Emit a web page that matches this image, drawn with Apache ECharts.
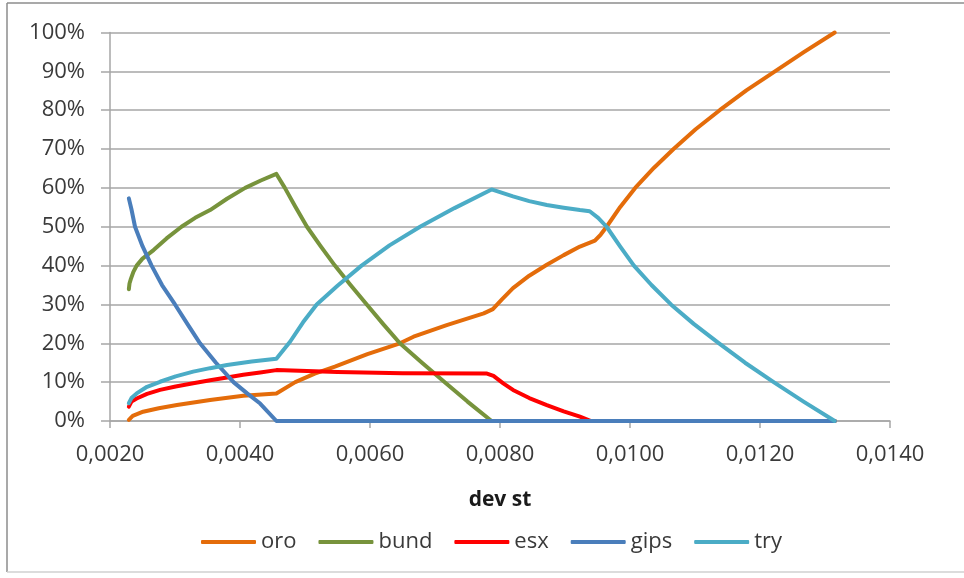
<!DOCTYPE html>
<html>
<head>
<meta charset="utf-8">
<title>Composizione portafoglio per deviazione standard</title>
<script src="https://cdn.jsdelivr.net/npm/echarts@6/dist/echarts.min.js"></script>
<style>
  html, body { margin: 0; padding: 0; background: #ffffff; }
  #chart { width: 964px; height: 578px; }
</style>
</head>
<body>
<div id="chart"></div>
<script>
// Portfolio weights (%) along the efficient frontier, keyed by standard deviation
const seriesNames = ['oro', 'bund', 'esx', 'gips', 'try'];

const oro = [
  [0.00229, 0.3], [0.00235, 1.3], [0.00251, 2.4], [0.00275, 3.3], [0.00303, 4.1],
  [0.00354, 5.4], [0.00405, 6.5], [0.00456, 7.1], [0.00485, 10], [0.00515, 12.2],
  [0.00546, 14], [0.00596, 17.2], [0.00646, 20], [0.00667, 21.7], [0.00718, 24.7],
  [0.00775, 27.7], [0.00789, 28.8], [0.00803, 31.3], [0.0082, 34.2], [0.00845, 37.4],
  [0.00872, 40.2], [0.00898, 42.7], [0.00923, 44.9], [0.00946, 46.4], [0.00955, 48],
  [0.00964, 50], [0.00985, 55.1], [0.01008, 60], [0.01037, 65.2], [0.01067, 70],
  [0.01101, 75.1], [0.01138, 80], [0.01179, 85.1], [0.01223, 90], [0.01268, 95],
  [0.01315, 100]
];
const bund = [
  [0.00229, 33.9], [0.0023, 35.4], [0.00232, 36.5], [0.00236, 38.4], [0.00241, 40],
  [0.0025, 41.8], [0.00267, 44], [0.00287, 47], [0.0031, 50], [0.00331, 52.3],
  [0.00354, 54.3], [0.0038, 57.2], [0.00408, 60], [0.00432, 61.9], [0.00456, 63.6],
  [0.00469, 60], [0.00485, 55.2], [0.00503, 50], [0.00524, 45], [0.00546, 40],
  [0.0057, 35], [0.00595, 30], [0.0062, 25], [0.00646, 20], [0.0068, 15],
  [0.00715, 10], [0.0075, 5], [0.00787, 0], [0.01315, 0]
];
const esx = [
  [0.00229, 3.7], [0.00233, 5.0], [0.00241, 5.8], [0.00257, 7.0], [0.00277, 8.0],
  [0.00301, 8.9], [0.00328, 9.7], [0.00354, 10.5], [0.0038, 11.2], [0.00405, 11.9],
  [0.00431, 12.5], [0.00456, 13.1], [0.0055, 12.6], [0.0065, 12.3], [0.0078, 12.2],
  [0.0079, 11.6], [0.00805, 9.7], [0.0082, 8.0], [0.00845, 5.9], [0.00872, 4.1],
  [0.00898, 2.5], [0.00923, 1.1], [0.0094, 0], [0.01315, 0]
];
const gips = [
  [0.00229, 57.3], [0.0023, 56.6], [0.00233, 54.5], [0.002385, 50], [0.0025, 45],
  [0.00264, 40], [0.0028, 35], [0.0030, 30], [0.00319, 25], [0.003385, 20],
  [0.00363, 15], [0.0039, 10], [0.00411, 7.1], [0.00431, 4.5], [0.00456, 0],
  [0.01315, 0]
];
const tryW = [
  [0.00229, 4.6], [0.00233, 5.9], [0.00241, 7.1], [0.00257, 8.8], [0.00277, 10.1],
  [0.00301, 11.5], [0.00328, 12.7], [0.00354, 13.6], [0.0038, 14.4], [0.00418, 15.3],
  [0.00456, 16.0], [0.00477, 20.4], [0.00497, 25.4], [0.00518, 30], [0.0055, 34.8],
  [0.00587, 40], [0.0063, 45.2], [0.00677, 50], [0.0073, 54.8], [0.00787, 59.6],
  [0.0082, 57.8], [0.00845, 56.6], [0.00872, 55.6], [0.00898, 54.9], [0.00923, 54.3],
  [0.00938, 54.0], [0.00951, 52.3], [0.00964, 50], [0.00985, 44.9], [0.01006, 40],
  [0.01033, 35], [0.01063, 30], [0.01098, 25], [0.01137, 20], [0.01177, 15],
  [0.01221, 10], [0.01267, 5], [0.01315, 0]
];

const seriesData = [oro, bund, esx, gips, tryW];
const seriesColors = ['#E46C0A', '#77933C', '#FF0000', '#4A7EBB', '#4BACC6'];

const xTickLabels = ['0,0020', '0,0040', '0,0060', '0,0080', '0,0100', '0,0120', '0,0140'];
const yTickLabels = ['0%', '10%', '20%', '30%', '40%', '50%', '60%', '70%', '80%', '90%', '100%'];
const xAxisTitle = 'dev st';

const FONT = '"Open Sans", "Noto Sans", sans-serif';
const TEXT = '#3a3a3a';
const GRID_GRAY = '#a6a6a6';

const chart = echarts.init(document.getElementById('chart'), null, { renderer: 'canvas' });

chart.setOption({
  animation: false,
  backgroundColor: '#ffffff',
  graphic: [
    { type: 'line', shape: { x1: 7, y1: 3, x2: 964, y2: 3 }, style: { stroke: '#8c8c8c', lineWidth: 1.5 } },
    { type: 'line', shape: { x1: 7, y1: 3, x2: 7, y2: 572 }, style: { stroke: '#8c8c8c', lineWidth: 1.5 } },
    { type: 'line', shape: { x1: 7, y1: 572, x2: 964, y2: 572 }, style: { stroke: '#d0d0d0', lineWidth: 1.5 } }
  ],
  grid: { left: 110, right: 74, top: 32.5, bottom: 157, containLabel: false },
  legend: {
    data: seriesNames,
    left: 196,
    top: 526,
    icon: 'roundRect',
    itemWidth: 55,
    itemHeight: 4,
    itemGap: 22,
    textStyle: { fontFamily: FONT, fontSize: 22, color: TEXT }
  },
  xAxis: {
    type: 'value',
    min: 0.002,
    max: 0.014,
    interval: 0.002,
    name: xAxisTitle,
    nameLocation: 'middle',
    nameGap: 69,
    nameTextStyle: { fontFamily: FONT, fontSize: 21, fontWeight: 'bold', color: '#1a1a1a' },
    axisLine: { show: true, lineStyle: { color: GRID_GRAY, width: 1.5 } },
    axisTick: { show: true, length: 7, lineStyle: { color: GRID_GRAY, width: 1.5 } },
    axisLabel: {
      margin: 23,
      fontFamily: FONT,
      fontSize: 22,
      color: TEXT,
      formatter: v => xTickLabels[Math.round((v - 0.002) / 0.002)]
    },
    splitLine: { show: false }
  },
  yAxis: {
    type: 'value',
    min: 0,
    max: 100,
    interval: 10,
    axisLine: { show: true, lineStyle: { color: GRID_GRAY, width: 1.5 } },
    axisTick: { show: true, length: 9, lineStyle: { color: GRID_GRAY, width: 1.5 } },
    axisLabel: {
      margin: 25,
      fontFamily: FONT,
      fontSize: 22,
      color: TEXT,
      formatter: v => yTickLabels[Math.round(v / 10)]
    },
    splitLine: { show: true, lineStyle: { color: GRID_GRAY, width: 1.5 } }
  },
  series: seriesNames.map((name, i) => ({
    name: name,
    type: 'line',
    data: seriesData[i],
    showSymbol: false,
    symbol: 'none',
    smooth: false,
    clip: false,
    color: seriesColors[i],
    lineStyle: { width: 4, color: seriesColors[i], cap: 'round', join: 'round' },
    emphasis: { disabled: true }
  }))
});
</script>
</body>
</html>
